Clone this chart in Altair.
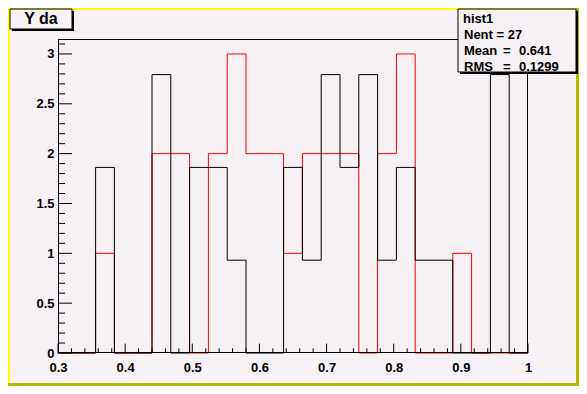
import altair as alt
import pandas as pd

# ---------------- data ----------------
bin_low = [0.300, 0.328, 0.356, 0.384, 0.412, 0.440, 0.468, 0.496, 0.524,
           0.552, 0.580, 0.608, 0.636, 0.664, 0.692, 0.720, 0.748, 0.776,
           0.804, 0.832, 0.860, 0.888, 0.916, 0.944, 0.972]
x_max = 1.0
black_vals = [0, 0, 1.862, 0, 0, 2.793, 0, 1.862, 1.862, 0.931, 0, 0, 1.862,
              0.931, 2.793, 1.862, 2.793, 0.931, 1.862, 0.931, 0.931, 0, 0,
              2.793, 0]
red_vals = [0, 0, 1, 0, 0, 2, 2, 0, 2, 3, 2, 2, 1, 2, 2, 2, 0, 2, 3, 0, 0, 1,
            0, 0, 0]
x_tick_labels = [0.3, 0.4, 0.5, 0.6, 0.7, 0.8, 0.9, 1.0]
y_tick_labels = [0, 0.5, 1, 1.5, 2, 2.5, 3]
y_top = 3.15
title_text = "Y da"
stats_title = "hist1"
stats_names = ["Nent = 27", "Mean", "RMS"]
stats_values = ["", "0.641", "0.1299"]

# ---------------- styling ----------------
BG = "#f5f1f5"
FONT = "Liberation Sans"
W, H = 470, 314
PAD = {"left": 50, "top": 31, "right": 51, "bottom": 33}

xs = alt.Scale(domain=[0.3, x_max], nice=False, zero=False)
ys = alt.Scale(domain=[0, y_top], nice=False, zero=False)
xax = alt.Axis(values=x_tick_labels, format="~g", ticks=False, domain=False,
               grid=False, labelFont=FONT, labelFontSize=13,
               labelFontWeight="bold", labelColor="black",
               labelPadding=14, labelBaseline="middle", title=None,
               labelFlush=False, labelOverlap=False)
yax = alt.Axis(values=y_tick_labels, format="~g", ticks=False, domain=False,
               grid=False, labelFont=FONT, labelFontSize=13,
               labelFontWeight="bold", labelColor="black",
               labelPadding=4, labelBaseline="middle", title=None,
               labelFlush=False, labelOverlap=False)
dummy = pd.DataFrame({"a": [0]})


def outline(vals):
    edges = bin_low + [x_max]
    px, py = [edges[0]], [0]
    for i, v in enumerate(vals):
        px += [edges[i], edges[i + 1]]
        py += [v, v]
    px.append(edges[-1])
    py.append(0)
    return pd.DataFrame({"x": px, "y": py, "o": list(range(len(px)))})


def hist_layer(vals, color):
    return alt.Chart(outline(vals)).mark_line(color=color, strokeWidth=1,
                                              strokeJoin="miter").encode(
        x=alt.X("x:Q", scale=xs, axis=xax),
        y=alt.Y("y:Q", scale=ys, axis=yax),
        order="o:Q",
    )


def rule(x, x2, y, y2, color="black", sw=1):
    return alt.Chart(dummy).mark_rule(color=color, strokeWidth=sw).encode(
        x=alt.value(x), x2=alt.value(x2), y=alt.value(y), y2=alt.value(y2))


def rect(x, x2, y, y2, fill, stroke=None):
    kw = {"fill": fill}
    if stroke is not None:
        kw.update(stroke=stroke, strokeWidth=1)
    return alt.Chart(dummy).mark_rect(**kw).encode(
        x=alt.value(x), x2=alt.value(x2), y=alt.value(y), y2=alt.value(y2))


def text(t, x, y, size=13, align="left"):
    return alt.Chart(dummy).mark_text(
        text=t, font=FONT, fontSize=size, fontWeight="bold", color="black",
        align=align, baseline="middle").encode(x=alt.value(x), y=alt.value(y))


# ticks (inside the frame, ROOT style)
x_minor = [round(0.3 + 0.02 * i, 3) for i in range(36)]
x_minor = [v for v in x_minor if all(abs(v - m) > 1e-9 for m in x_tick_labels)]
y_minor = [round(0.1 * i, 2) for i in range(32)]
y_minor = [v for v in y_minor if all(abs(v - m) > 1e-9 for m in y_tick_labels)]

xt_major = alt.Chart(pd.DataFrame({"x": x_tick_labels})).mark_rule(
    color="black", strokeWidth=1).encode(
    x=alt.X("x:Q", scale=xs, axis=xax), y=alt.value(H), y2=alt.value(H - 9.4))
xt_minor = alt.Chart(pd.DataFrame({"x": x_minor})).mark_rule(
    color="black", strokeWidth=1).encode(
    x=alt.X("x:Q", scale=xs, axis=xax), y=alt.value(H), y2=alt.value(H - 4.7))
yt_major = alt.Chart(pd.DataFrame({"y": y_tick_labels})).mark_rule(
    color="black", strokeWidth=1).encode(
    y=alt.Y("y:Q", scale=ys, axis=yax), x=alt.value(0), x2=alt.value(14))
yt_minor = alt.Chart(pd.DataFrame({"y": y_minor})).mark_rule(
    color="black", strokeWidth=1).encode(
    y=alt.Y("y:Q", scale=ys, axis=yax), x=alt.value(0), x2=alt.value(7))

# frame
frame = [
    rule(0.5, 0.5, 0, H),          # left
    rule(0, W, H - 0.5, H - 0.5),  # bottom
    rule(0, W, 0.5, 0.5),          # top
    rule(W - 0.5, W - 0.5, 0, H),  # right
]

# canvas border (yellow bevel)
L, T = -PAD["left"], -PAD["top"]
R, B = W + PAD["right"], H + PAD["bottom"]
border = [
    rule(L, R, T + 1, T + 1, "#ffff00", 2),
    rule(L + 1, L + 1, T, B, "#ffff00", 2),
    rule(L, R, B - 1.5, B - 1.5, "#b8b800", 3),
    rule(R - 1.5, R - 1.5, T, B, "#b8b800", 3),
]

# title box
tb = [
    rect(-46, 16, -28, -8, "black"),
    rect(-48, 14, -30, -10, BG, "black"),
    text(title_text, -17, -20, size=16, align="center"),
]

# stats box
sx0, sx1, sy0, sy1 = 400, 518, -30, 33
sb = [rect(sx0 + 2, sx1 + 2, sy0 + 2, sy1 + 2, "black"),
      rect(sx0, sx1, sy0, sy1, BG, "black"),
      text(stats_title, 405, -20)]
line_y = [-4, 12, 27.5]
for name, val, ly in zip(stats_names, stats_values, line_y):
    sb.append(text(name, 406, ly))
    if val:
        sb.append(text("=", 445, ly))
        sb.append(text(val, 461, ly))

layers = ([hist_layer(red_vals, "#ff0000"), hist_layer(black_vals, "#000000"),
           xt_major, xt_minor, yt_major, yt_minor]
          + frame + border + tb + sb)

chart = alt.layer(*layers).properties(
    width=W, height=H,
    autosize=alt.AutoSizeParams(type="none"),
    padding=PAD,
    background=BG,
).configure_view(strokeWidth=0)

chart.save("out.html", embed_options={"renderer": "svg", "actions": False})
